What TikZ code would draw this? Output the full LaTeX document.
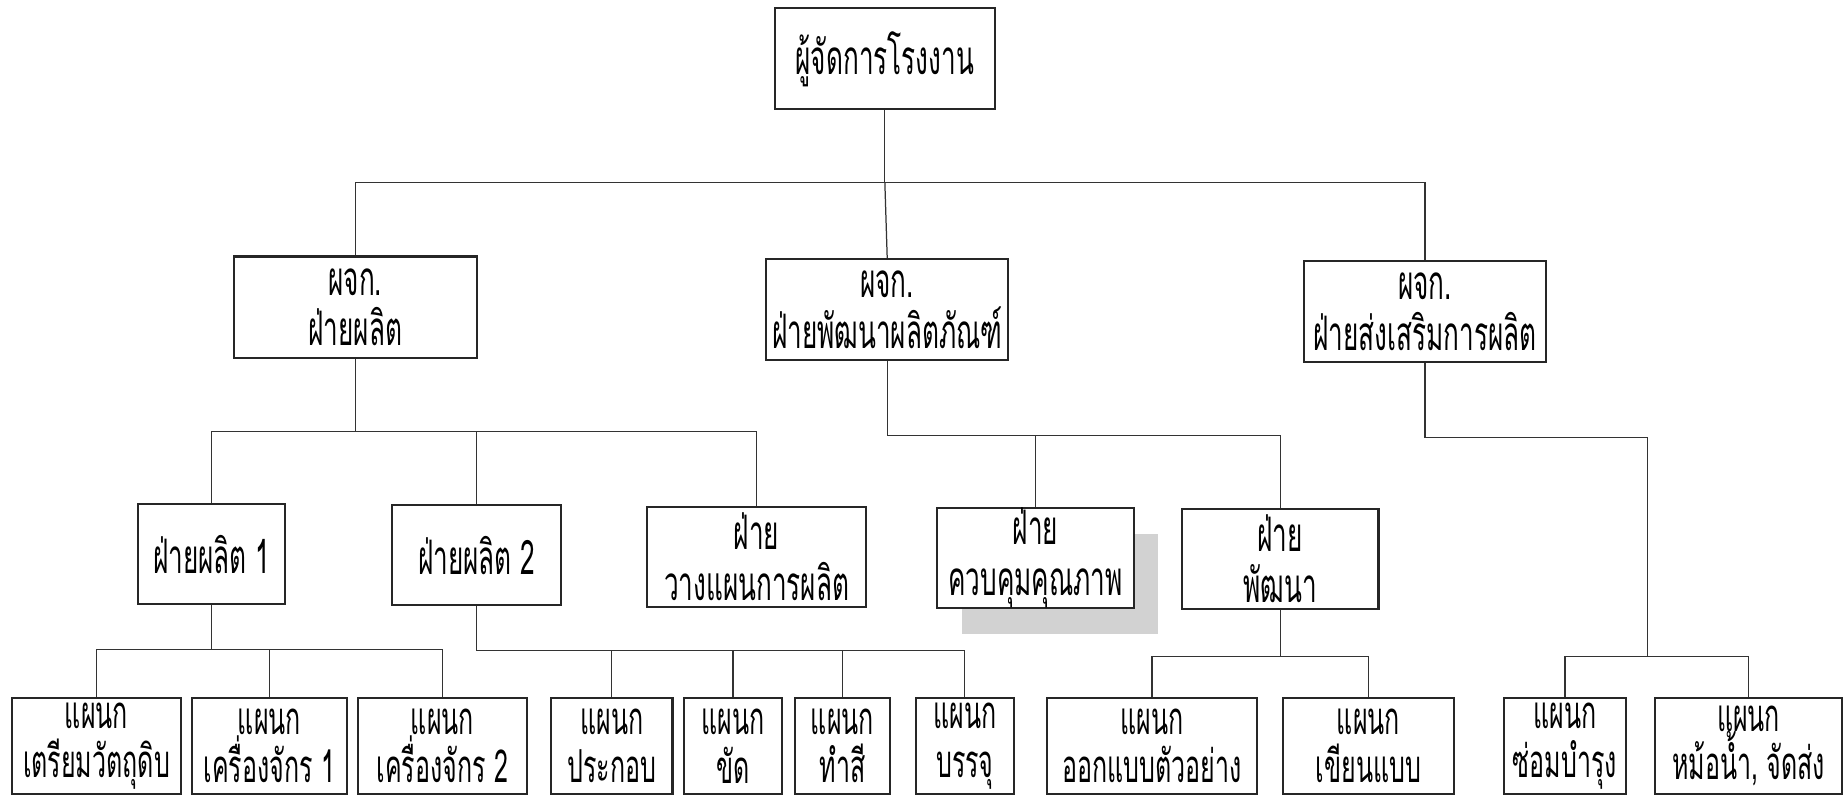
\documentclass[tikz,border=0pt]{standalone}
\usepackage{fontspec}
\newfontfamily\thaifont[Script=Thai,FakeStretch=0.55]{Loma}
\usepackage{tikz}
\usetikzlibrary{shadows}
\tikzset{
    box_org/.style={rectangle, draw=black!85, fill=white, line width=1pt, align=center, inner sep=0pt, font=\thaifont\fontsize{23}{24.5}\selectfont},
    box_jefe/.style={box_org, minimum height=86*0.02cm},
    box_gerente/.style={box_org, minimum height=86*0.02cm, minimum width=206*0.02cm},
    box_division/.style={box_org, minimum height=85*0.02cm},
    box_depto/.style={box_org, minimum height=82*0.02cm, font=\thaifont\fontsize{22}{23.5}\selectfont},
    sombra/.style={drop shadow={shadow xshift=0.42cm, shadow yshift=-0.44cm, fill=gray!35, opacity=1}},
    linea/.style={draw, line width=0.6pt, color=black!80}
}

\begin{document}
\begin{tikzpicture}[x=0.02cm, y=-0.02cm]
    \useasboundingbox (0,0) rectangle (1568,681);

    % jefe de planta
    \node[box_jefe, minimum width=187*0.02cm] (root) at (752,50) {ผู้จัดการโรงงาน};

    % gerentes
    \node[box_gerente] (gp) at (302,261) {ผจก.\\ฝ่ายผลิต};
    \node[box_gerente] (gd) at (754,263) {ผจก.\\ฝ่ายพัฒนาผลิตภัณฑ์};
    \node[box_gerente] (gs) at (1211,265) {ผจก.\\ฝ่ายส่งเสริมการผลิต};

    % divisiones
    \node[box_division, minimum width=125*0.02cm] (f1) at (180,471) {ฝ่ายผลิต 1};
    \node[box_division, minimum width=143*0.02cm] (f2) at (405,472) {ฝ่ายผลิต 2};
    \node[box_division, minimum width=186*0.02cm] (wp) at (643,473) {ฝ่าย\\วางแผนการผลิต};
    \node[box_division, minimum width=167*0.02cm, sombra] (qc) at (880,474) {ฝ่าย\\ควบคุมคุณภาพ};
    \node[box_division, minimum width=167*0.02cm] (dv) at (1088,475) {ฝ่าย\\พัฒนา};

    % departamentos
    \node[box_depto, minimum width=143*0.02cm] (d1) at (82,634) {แผนก\\เตรียมวัตถุดิบ};
    \node[box_depto, minimum width=132*0.02cm] (d2) at (229,634) {แผนก\\เครื่องจักร 1};
    \node[box_depto, minimum width=143*0.02cm] (d3) at (376,634) {แผนก\\เครื่องจักร 2};
    \node[box_depto, minimum width=103*0.02cm] (d4) at (520,634) {แผนก\\ประกอบ};
    \node[box_depto, minimum width=83*0.02cm] (d5) at (623,634) {แผนก\\ขัด};
    \node[box_depto, minimum width=81*0.02cm] (d6) at (716,634) {แผนก\\ทำสี};
    \node[box_depto, minimum width=83*0.02cm] (d7) at (820,634) {แผนก\\บรรจุ};
    \node[box_depto, minimum width=178*0.02cm] (d8) at (979,634) {แผนก\\ออกแบบตัวอย่าง};
    \node[box_depto, minimum width=146*0.02cm] (d9) at (1163,634) {แผนก\\เขียนแบบ};
    \node[box_depto, minimum width=104*0.02cm] (d10) at (1330,634) {แผนก\\ซ่อมบำรุง};
    \node[box_depto, minimum width=159*0.02cm] (d11) at (1486,634) {แผนก\\หม้อน้ำ, จัดส่ง};

    % barras
    \coordinate (bus_top) at (752,155);
    \coordinate (bus_p) at (302,367);
    \coordinate (bus_d) at (754,370);
    \coordinate (bus_s) at (1211,372);
    \coordinate (bus_s2) at (1400,558);
    \coordinate (bus_f1) at (180,552);
    \coordinate (bus_f2) at (405,553);
    \coordinate (bus_dv) at (1088,558);

    \draw[linea] (root.south) -- (bus_top);
    \draw[linea] (gp.north) |- (bus_top) -| (gs.north);
    \draw[linea] (bus_top) -- (gd.north);

    \draw[linea] (gp.south) -- (bus_p);
    \draw[linea] (f1.north) |- (bus_p) -| (wp.north);
    \draw[linea] (bus_p -| f2.north) -- (f2.north);

    \draw[linea] (gd.south) -- (bus_d) -| (dv.north);
    \draw[linea] (bus_d -| qc.north) -- (qc.north);

    \draw[linea] (gs.south) -- (bus_s) -| (bus_s2);
    \draw[linea] (d10.north) |- (bus_s2) -| (d11.north);

    \draw[linea] (f1.south) -- (bus_f1);
    \draw[linea] (d1.north) |- (bus_f1) -| (d3.north);
    \draw[linea] (bus_f1 -| d2.north) -- (d2.north);

    \draw[linea] (f2.south) -- (bus_f2) -| (d7.north);
    \foreach \n in {d4,d5,d6}
        \draw[linea] (bus_f2 -| \n.north) -- (\n.north);

    \draw[linea] (dv.south) -- (bus_dv);
    \draw[linea] (d8.north) |- (bus_dv) -| (d9.north);
\end{tikzpicture}
\end{document}
